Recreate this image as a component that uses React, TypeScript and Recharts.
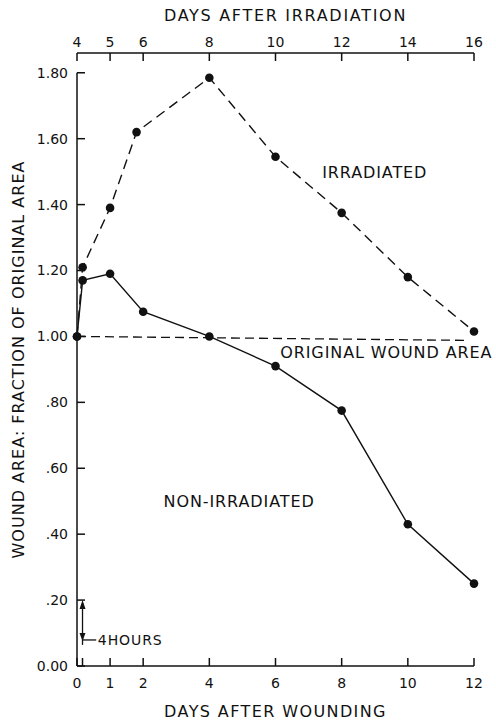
import React from 'react';
import { LineChart, Line, XAxis, YAxis, ReferenceLine, ReferenceDot } from 'recharts';

// x ticks, days after wounding (1/6 day = the 4 hour mark, no label)
const woundTicks = [0, 1 / 6, 1, 2, 4, 6, 8, 10, 12];
const irradiationTicks = [4, 5, 6, 8, 10, 12, 14, 16];
const fractionTicks = [0, 0.2, 0.4, 0.6, 0.8, 1.0, 1.2, 1.4, 1.6, 1.8];

// irradiated group, read against the top axis (days after irradiation)
const irradiatedDays = [4, 4.17, 5, 5.8, 8, 10, 12, 14, 16];
const irradiatedArea = [1.0, 1.21, 1.39, 1.62, 1.785, 1.545, 1.375, 1.18, 1.015];

// non-irradiated group, read against the bottom axis (days after wounding)
const controlDays = [0, 0.17, 1, 2, 4, 6, 8, 10, 12];
const controlArea = [1.0, 1.17, 1.19, 1.075, 1.0, 0.91, 0.775, 0.43, 0.25];

// dashed "original wound area" reference
const originalDays = [0, 11.8];
const originalArea = [1.0, 0.988];

const notes = [
  { text: 'IRRADIATED', day: 9.0, area: 1.496 },
  { text: 'ORIGINAL WOUND AREA', day: 9.35, area: 0.95 },
  { text: 'NON-IRRADIATED', day: 4.9, area: 0.5 },
];

const irradiated = irradiatedDays.map((day, i) => ({ day, area: irradiatedArea[i] }));
const control = controlDays.map((day, i) => ({ day, area: controlArea[i] }));

const FONT = '"DejaVu Sans", sans-serif';
const INK = '#111';

const fmtFraction = (v: number) => {
  if (v === 0) return '0.00';
  return v < 1 ? v.toFixed(2).slice(1) : v.toFixed(2);
};
const fmtDay = (v: number) => (Math.abs(v - 1 / 6) < 0.01 ? '' : String(v));

const textShape = (label: string, anchor: string = 'middle', size: number = 16) => (props: any) => (
  <text
    x={props.cx}
    y={props.cy}
    textAnchor={anchor}
    dominantBaseline="central"
    fontSize={size}
    fontFamily={FONT}
    letterSpacing={0.9}
    fill={INK}
  >
    {label}
  </text>
);

const arrowUp = (props: any) => (
  <polygon
    points={`${props.cx},${props.cy} ${props.cx - 3},${props.cy + 9} ${props.cx + 3},${props.cy + 9}`}
    fill={INK}
  />
);
const arrowDown = (props: any) => (
  <polygon
    points={`${props.cx},${props.cy} ${props.cx - 3},${props.cy - 8} ${props.cx + 3},${props.cy - 8}`}
    fill={INK}
  />
);

export default function App() {
  return (
    <div style={{ position: 'absolute', left: 0, top: 0, fontFamily: FONT, fontSize: 14, background: '#fff' }}>
      <LineChart width={496} height={722} margin={{ top: 3, right: 22, bottom: 4, left: 7 }}>
        <XAxis
          dataKey="day"
          type="number"
          domain={[0, 12]}
          ticks={woundTicks}
          interval={0}
          tickFormatter={fmtDay}
          tickSize={-8}
          tickMargin={20}
          height={52}
          tick={{ fill: INK, fontSize: 14 }}
          axisLine={{ stroke: INK, strokeWidth: 1.5 }}
          tickLine={{ stroke: INK, strokeWidth: 1.5 }}
          label={{
            value: 'DAYS AFTER WOUNDING',
            position: 'insideBottom',
            offset: 1,
            fill: INK,
            fontSize: 16,
            letterSpacing: 1.4,
          }}
        />
        <XAxis
          xAxisId="top"
          dataKey="day"
          orientation="top"
          type="number"
          domain={[4, 16]}
          ticks={irradiationTicks}
          interval={0}
          tickSize={-8}
          tickMargin={14}
          height={50}
          tick={{ fill: INK, fontSize: 14 }}
          axisLine={{ stroke: INK, strokeWidth: 1.5 }}
          tickLine={{ stroke: INK, strokeWidth: 1.5 }}
          label={{
            value: 'DAYS AFTER IRRADIATION',
            position: 'insideTop',
            offset: 7,
            dx: 10,
            fill: INK,
            fontSize: 16,
            letterSpacing: 1.7,
          }}
        />
        <YAxis
          type="number"
          domain={[0, 1.86]}
          ticks={fractionTicks}
          interval={0}
          tickFormatter={fmtFraction}
          tickSize={-8}
          tickMargin={17}
          width={70}
          axisLine={false}
          tick={{ fill: INK, fontSize: 14 }}
          tickLine={{ stroke: INK, strokeWidth: 1.5 }}
          label={{
            value: 'WOUND AREA: FRACTION OF ORIGINAL AREA',
            angle: -90,
            position: 'insideLeft',
            offset: 11,
            fill: INK,
            fontSize: 16,
            letterSpacing: 1,
            style: { textAnchor: 'middle' },
          }}
        />

        <ReferenceLine
          segment={[{ x: 0, y: 0 }, { x: 0, y: 1.8 }]}
          stroke={INK}
          strokeWidth={1.5}
          ifOverflow="visible"
        />
        <ReferenceLine
          segment={originalDays.map((d, i) => ({ x: d, y: originalArea[i] }))}
          stroke={INK}
          strokeWidth={1.3}
          strokeDasharray="9 5"
        />

        {/* 4 hours marker */}
        <ReferenceLine
          segment={[{ x: 1 / 6, y: 0.064 }, { x: 1 / 6, y: 0.19 }]}
          stroke={INK}
          strokeWidth={1.3}
        />
        <ReferenceLine
          segment={[{ x: 1 / 6, y: 0.079 }, { x: 0.58, y: 0.079 }]}
          stroke={INK}
          strokeWidth={1.3}
        />
        <ReferenceDot x={1 / 6} y={0.2} shape={arrowUp} />
        <ReferenceDot x={1 / 6} y={0.076} shape={arrowDown} />
        <ReferenceDot x={0.63} y={0.079} shape={textShape('4HOURS', 'start', 14)} />

        {notes.map((n) => (
          <ReferenceDot key={n.text} x={n.day} y={n.area} ifOverflow="visible" shape={textShape(n.text)} />
        ))}

        <Line
          xAxisId="top"
          data={irradiated}
          dataKey="area"
          type="linear"
          stroke={INK}
          strokeWidth={1.4}
          strokeDasharray="10 6"
          dot={{ r: 4.3, fill: INK, stroke: INK, strokeWidth: 0 }}
          activeDot={false}
          isAnimationActive={false}
        />
        <Line
          data={control}
          dataKey="area"
          type="linear"
          stroke={INK}
          strokeWidth={1.4}
          dot={{ r: 4.3, fill: INK, stroke: INK, strokeWidth: 0 }}
          activeDot={false}
          isAnimationActive={false}
        />
      </LineChart>
    </div>
  );
}
